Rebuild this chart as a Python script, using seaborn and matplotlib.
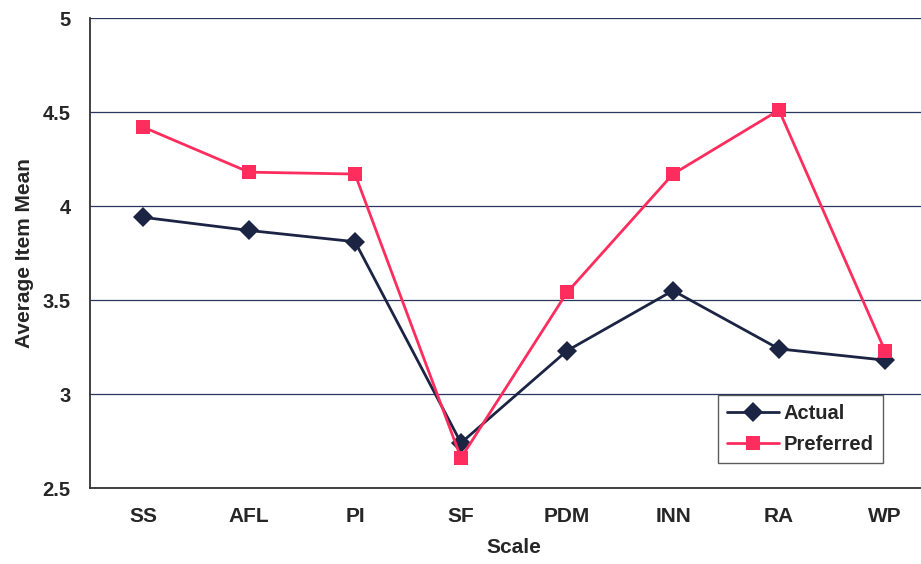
import matplotlib
matplotlib.use("Agg")
import matplotlib.pyplot as plt
import seaborn as sns
import pandas as pd
import numpy as np

scales = ["SS", "AFL", "PI", "SF", "PDM", "INN", "RA", "WP"]
actual = [3.94, 3.87, 3.81, 2.74, 3.23, 3.55, 3.24, 3.18]
preferred = [4.42, 4.18, 4.17, 2.66, 3.54, 4.17, 4.51, 3.23]
y_ticks = [2.5, 3, 3.5, 4, 4.5, 5]

df = pd.DataFrame({
    "pos": list(range(len(scales))) * 2,
    "value": actual + preferred,
    "series": ["Actual"] * len(scales) + ["Preferred"] * len(scales),
})

sns.set_style("white")
plt.rcParams["font.family"] = ["Liberation Sans", "DejaVu Sans"]

fig = plt.figure(figsize=(9.21, 5.64), dpi=100)
ax = fig.add_axes([90 / 921, 1 - 488 / 564, 848 / 921, 470 / 564])

palette = {"Actual": "#1c2444", "Preferred": "#ff2d5e"}
sns.lineplot(data=df, x="pos", y="value", hue="series", style="series",
             markers={"Actual": "D", "Preferred": "s"}, dashes=False,
             palette=palette, markersize=10.5, linewidth=2.0,
             markeredgewidth=0, ax=ax)

ax.set_xlim(-0.5, len(scales) - 0.5)
ax.set_ylim(2.5, 5)
ax.set_yticks(y_ticks)
ax.set_yticklabels([f"{t:g}" for t in y_ticks], fontsize=14.5, fontweight="bold")
ax.set_xticks(range(len(scales)))
ax.set_xticklabels(scales, fontsize=15, fontweight="bold")
ax.set_xticks(np.arange(-0.5, len(scales), 1), minor=True)
ax.tick_params(axis="x", which="major", length=0, pad=14)
ax.tick_params(axis="x", which="minor", length=5, width=1, color="#333333", direction="out")
ax.tick_params(axis="y", which="major", length=6, width=1, color="#333333", direction="out", pad=8)
ax.yaxis.grid(True, color="#2a3560", linewidth=0.9)
ax.set_axisbelow(True)

for side in ["top", "right"]:
    ax.spines[side].set_visible(False)
for side in ["left", "bottom"]:
    ax.spines[side].set_color("#333333")
    ax.spines[side].set_linewidth(1.3)

ax.set_xlabel("Scale", fontsize=15, fontweight="bold", labelpad=8)
ax.set_ylabel("Average Item Mean", fontsize=15, fontweight="bold", labelpad=6)

leg = ax.legend(loc="upper left", bbox_to_anchor=((718 - 90) / 848, (488 - 395) / 470),
                borderaxespad=0, frameon=True, fancybox=False, edgecolor="#333333",
                prop={"size": 14.5, "weight": "bold"}, handlelength=2.6,
                borderpad=0.45, labelspacing=0.6, handletextpad=0.2)
leg.get_frame().set_linewidth(1.0)

fig.savefig("out.png", dpi=100)
